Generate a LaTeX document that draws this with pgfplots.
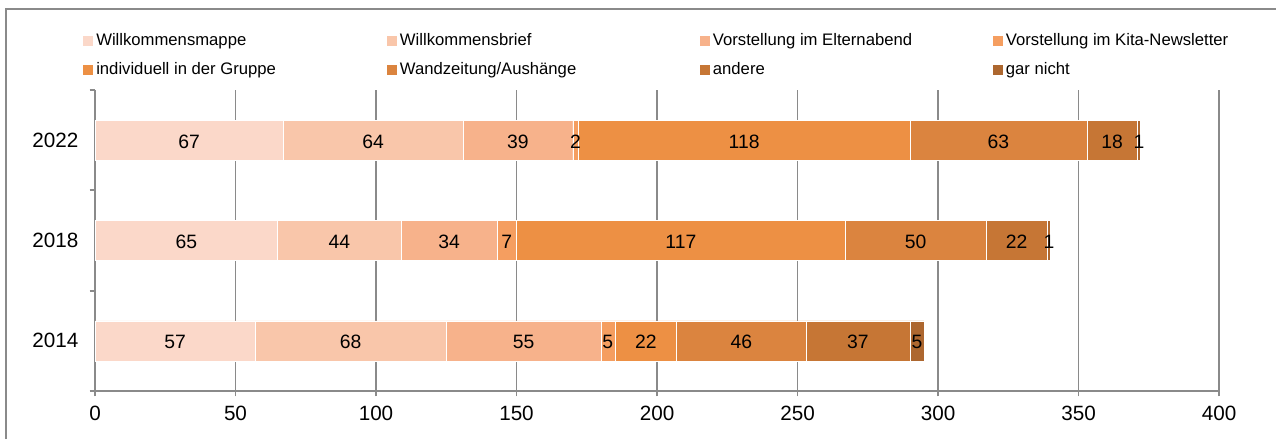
\documentclass[border=0pt]{standalone}
\usepackage{pgfplots}
\pgfplotsset{compat=1.18}
\usepackage{fontspec}
\setmainfont{Liberation Sans}

\definecolor{c1}{HTML}{FBD8C9}
\definecolor{c2}{HTML}{F9C6AA}
\definecolor{c3}{HTML}{F7B28B}
\definecolor{c4}{HTML}{F59E60}
\definecolor{c5}{HTML}{ED9044}
\definecolor{c6}{HTML}{DB843F}
\definecolor{c7}{HTML}{C67635}
\definecolor{c8}{HTML}{AD672F}
\definecolor{axisgray}{HTML}{8A8A8A}

\begin{document}
\begin{tikzpicture}
\useasboundingbox (0,0) rectangle (957pt,329.25pt);
\draw[axisgray, line width=1.5pt] (4.5pt,0) -- (4.5pt,322.5pt) -- (957pt,322.5pt);
\begin{axis}[
    at={(71.25pt,36pt)}, anchor=south west,
    scale only axis, width=843pt, height=225.75pt,
    xmin=0, xmax=400, ymin=-0.5, ymax=2.5,
    xbar stacked, bar width=30pt,
    axis x line*=bottom, axis y line*=left,
    axis line style={axisgray, line width=1.4pt},
    xtick={0,50,...,400},
    tick align=outside, major tick length=4pt,
    tick style={axisgray, line width=1.4pt},
    xmajorgrids, grid style={axisgray, line width=1.4pt},
    ytick={-0.5,0.5,1.5,2.5}, yticklabels={},
    extra y ticks={0,1,2}, extra y tick labels={2014,2018,2022},
    extra y tick style={major tick length=0pt, yticklabel style={xshift=-9pt}},
    ticklabel style={font=\fontsize{15.5pt}{18pt}\selectfont, text=black},
    xticklabel style={yshift=-4pt},
    /pgf/number format/assume math mode=true,
    every axis plot/.append style={draw=white, line width=0.3pt},
    nodes near coords, point meta=explicit,
    every node near coord/.append style={
        anchor=center, font=\fontsize{14.5pt}{17pt}\selectfont, text=black,
        yshift=-1pt},
    legend columns=4, legend cell align=left,
    legend image code/.code={\fill[#1, draw=none] (0pt,-3.75pt) rectangle (7.5pt,3.75pt);},
    legend style={at={(axis description cs:0,1)}, anchor=south west,
        xshift=-9pt, yshift=9pt, draw=none, fill=none,
        font=\fontsize{12.5pt}{15pt}\selectfont, inner sep=0pt,
        row sep=11pt,
        nodes={inner sep=0pt, text height=8.5pt, text depth=2.5pt},
        /tikz/every odd column/.append style={column sep=2.25pt}},
    table/row sep=\\,
]
\addplot[fill=c1] table[x=v, y=y, meta=v] {y v\\ 0 57\\ 1 65\\ 2 67\\};
\addlegendentry{\makebox[218pt][l]{Willkommensmappe}}
\addplot[fill=c2] table[x=v, y=y, meta=v] {y v\\ 0 68\\ 1 44\\ 2 64\\};
\addlegendentry{\makebox[225pt][l]{Willkommensbrief}}
\addplot[fill=c3] table[x=v, y=y, meta=v] {y v\\ 0 55\\ 1 34\\ 2 39\\};
\addlegendentry{\makebox[210pt][l]{Vorstellung im Elternabend}}
\addplot[fill=c4] table[x=v, y=y, meta=v] {y v\\ 0 5\\ 1 7\\ 2 2\\};
\addlegendentry{Vorstellung im Kita-Newsletter}
\addplot[fill=c5] table[x=v, y=y, meta=v] {y v\\ 0 22\\ 1 117\\ 2 118\\};
\addlegendentry{\makebox[218pt][l]{individuell in der Gruppe}}
\addplot[fill=c6] table[x=v, y=y, meta=v] {y v\\ 0 46\\ 1 50\\ 2 63\\};
\addlegendentry{\makebox[225pt][l]{Wandzeitung/Aushänge}}
\addplot[fill=c7] table[x=v, y=y, meta=v] {y v\\ 0 37\\ 1 22\\ 2 18\\};
\addlegendentry{\makebox[210pt][l]{andere}}
\addplot[fill=c8] table[x=v, y=y, meta=v] {y v\\ 0 5\\ 1 1\\ 2 1\\};
\addlegendentry{gar nicht}
\end{axis}
\end{tikzpicture}
\end{document}
